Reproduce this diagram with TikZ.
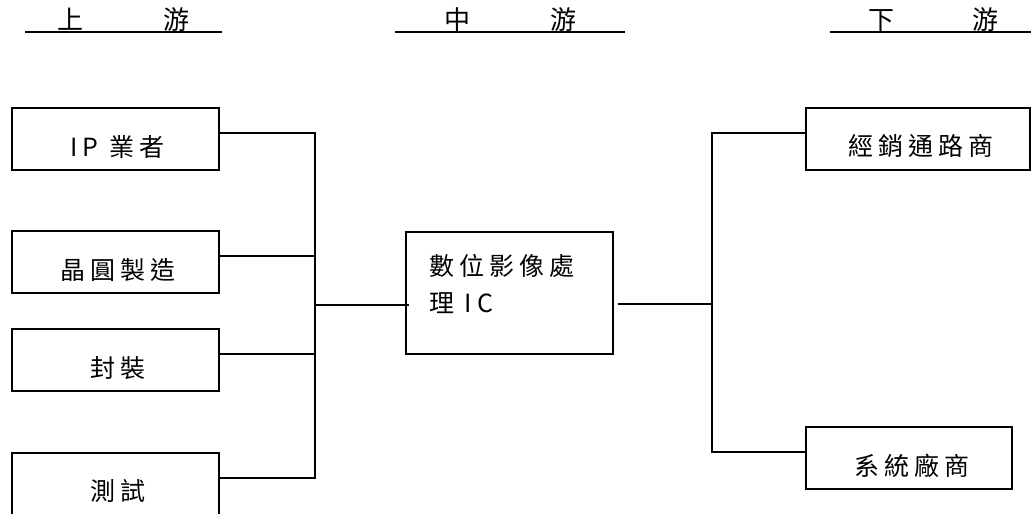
\documentclass[tikz,border=0pt]{standalone}
\usepackage{fontspec}
\newfontfamily\cjk{Noto Sans CJK TC}
\newfontfamily\cjksp{Noto Sans CJK TC}[LetterSpace=20]
\usetikzlibrary{calc}
\begin{document}
\begin{tikzpicture}[x=1pt,y=-1pt,
  box/.style={draw,line width=1.3pt,rectangle,inner sep=0pt,minimum width=207pt,minimum height=62pt},
  lab/.style={inner sep=0pt,font=\cjksp\fontsize{25}{37}\selectfont},
  hdr/.style={inner sep=0pt,minimum height=24pt,font=\cjk\fontsize{26}{28}\selectfont},
  conn/.style={line width=1.3pt},
  uline/.style={line width=2.2pt}]
\useasboundingbox (0,0) rectangle (1031,514);
% headers
\node[hdr,minimum width=197pt] (hup) at (123.5,20) {上\hspace{80pt}游};
\node[hdr,minimum width=230pt] (hmid) at (510,20) {中\hspace{80pt}游};
\node[hdr,minimum width=205pt] (hdown) at (933,20) {下\hspace{78pt}游};
\draw[uline] (hup.south west) -- (hup.south east);
\draw[uline] (hmid.south west) -- (hmid.south east);
\draw[uline] (hdown.south west) -- (hdown.south east);
% left boxes
\node[box] (ip) at (115.5,139) {};
\node[box] (wafer) at (115.5,262) {};
\node[box] (pkg) at (115.5,360) {};
\node[box] (test) at (115.5,484) {};
\node[lab] at ($(ip)+(2,8)$) {IP 業者};
\node[lab] at ($(wafer)+(2,8)$) {晶圓製造};
\node[lab] at ($(pkg)+(2,8)$) {封裝};
\node[lab] at ($(test)+(2,7)$) {測試};
% middle box
\node[box,minimum height=122pt] (mid) at (509.5,293) {};
\node[lab,anchor=north west,align=left] at (429,254) {數位影像處\\理 IC};
% right boxes
\node[box,minimum width=224pt] (dist) at (918,139) {};
\node[box,minimum width=206pt] (sys) at (909,458) {};
\node[lab] at ($(dist)+(3,7)$) {經銷通路商};
\node[lab] at ($(sys)+(3,8)$) {系統廠商};
% connectors
\coordinate (lb) at (315,305);
\coordinate (rb) at (712,304);
\draw[conn] ([yshift=6pt]ip.east) -| (lb);
\draw[conn] ([yshift=6pt]wafer.east) -| (lb);
\draw[conn] ([yshift=6pt]pkg.east) -| (lb);
\draw[conn] ([yshift=6pt]test.east) -| (lb);
\draw[conn] (lb) -- ($(lb -| mid.west)+(4,0)$);
\draw[conn] ($(rb -| mid.east)+(4,0)$) -- (rb);
\draw[conn] (rb) |- ([yshift=6pt]dist.west);
\draw[conn] (rb) |- ([yshift=6pt]sys.west);
\end{tikzpicture}
\end{document}
